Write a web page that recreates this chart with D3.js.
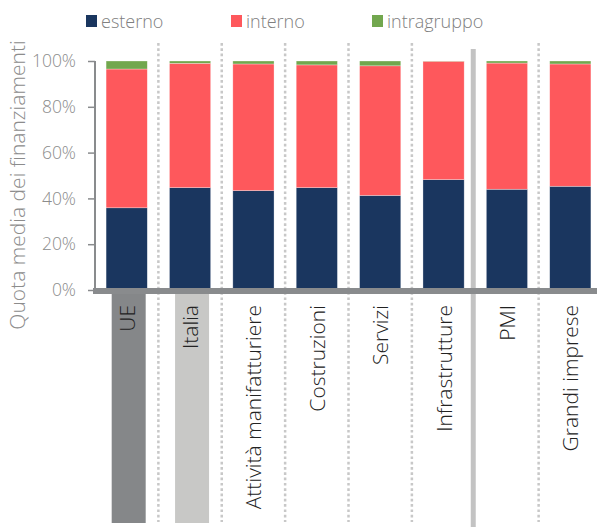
<!DOCTYPE html>
<html>
<head>
<meta charset="utf-8">
<script src="https://cdn.jsdelivr.net/npm/d3@7"></script>
<style>
  body { margin: 0; background: #fff; }
  text { font-family: "Open Sans", "Segoe UI", sans-serif; font-weight: 300; }
</style>
</head>
<body>
<div id="chart"></div>
<script>
// data
var categories = ["UE", "Italia", "Attività manifatturiere", "Costruzioni", "Servizi",
                  "Infrastrutture", "PMI", "Grandi imprese"];
var esterno     = [35.9, 44.7, 43.4, 44.7, 41.3, 48.2, 44.0, 45.3];
var interno     = [60.6, 54.3, 55.3, 53.6, 56.6, 51.7, 55.1, 53.4];
var intragruppo = [3.5, 1.0, 1.3, 1.7, 2.1, 0.1, 0.9, 1.3];
var seriesNames = ["esterno", "interno", "intragruppo"];
var yTicks = [0, 20, 40, 60, 80, 100];

var colors = { esterno: "#1a365f", interno: "#fe585c", intragruppo: "#72a74e" };

const width = 597, height = 527;

var svg = d3.select("#chart")
    .append("svg")
        .attr("width", width)
        .attr("height", height);

var rows = categories.map(function(c, i) {
    return {cat: c, esterno: esterno[i], interno: interno[i], intragruppo: intragruppo[i]};
});
var stacked = d3.stack().keys(seriesNames)(rows);

var xScale = d3.scaleBand()
    .domain(categories)
    .range([95, 602])
    .paddingInner(0.35)
    .paddingOuter(0.175);

var yScale = d3.scaleLinear()
    .domain([0, 100])
    .range([290, 61]);

var step = xScale.step();

// highlight boxes under UE and Italia
var boxFill = {"UE": "#858789", "Italia": "#c8c8c6"};
svg.selectAll(".hl")
    .data(["UE", "Italia"])
    .enter().append("rect")
    .attr("x", d => xScale(d) + xScale.bandwidth() / 2 - 15)
    .attr("y", 293)
    .attr("width", 34)
    .attr("height", 230)
    .style("fill", d => boxFill[d]);

// separators
categories.slice(1).forEach(function(c, i) {
    var sx = xScale(c) - (step - xScale.bandwidth()) / 2;
    if (c == "PMI") {
        svg.append("line")
            .attr("x1", sx - 2).attr("x2", sx - 2)
            .attr("y1", 49).attr("y2", 527)
            .style("stroke", "#c3c3c3")
            .style("stroke-width", 5);
    } else {
        svg.append("line")
            .attr("x1", sx).attr("x2", sx)
            .attr("y1", 43).attr("y2", 522)
            .style("stroke", "#c8c8c8")
            .style("stroke-width", 2.5)
            .style("stroke-dasharray", "2.7,2.6");
    }
});

// bars
svg.append("g").selectAll("g")
    .data(stacked)
    .enter().append("g")
    .style("fill", d => colors[d.key])
    .selectAll("rect")
    .data(d => d)
    .enter().append("rect")
    .attr("x", d => xScale(d.data.cat))
    .attr("y", d => yScale(d[1]))
    .attr("width", xScale.bandwidth())
    .attr("height", d => yScale(d[0]) - yScale(d[1]))
    .style("stroke", "#ffffff")
    .style("stroke-opacity", 0.5)
    .style("stroke-width", 0.6);

// x axis band
svg.append("rect")
    .attr("x", 93)
    .attr("y", 288)
    .attr("width", width - 93)
    .attr("height", 6)
    .style("fill", "#898b8d");

// Y Axis
const yAxis = d3.axisLeft(yScale)
    .tickValues(yTicks)
    .tickSize(7)
    .tickPadding(12)
    .tickFormat(d => d + "%");
var ya = svg.append("g")
    .attr("transform", "translate(95,0)")
    .call(yAxis);
ya.select(".domain")
    .attr("d", "M0,61V294")
    .style("stroke", "#898b8d")
    .style("stroke-width", 2);
ya.selectAll(".tick line")
    .style("stroke", "#898b8d")
    .style("stroke-width", 1.5);
ya.selectAll(".tick text")
    .style("font-size", "17.5px")
    .style("fill", "#8c8c8c")
    .style("font-family", "'Open Sans', sans-serif")
    .style("font-weight", 300);

// category labels
svg.selectAll(".cat")
    .data(categories)
    .enter().append("text")
    .attr("transform", d => "translate(" + (xScale(d) + xScale.bandwidth() / 2 + 8) + ",305) rotate(-90)")
    .style("text-anchor", "end")
    .style("font-size", "21px")
    .style("fill", "#222")
    .text(d => d);

// Y Axis label
svg.append("text")
    .attr("transform", "translate(25,185) rotate(-90)")
    .style("text-anchor", "middle")
    .style("font-size", "21px")
    .style("fill", "#8c8c8c")
    .text("Quota media dei finanziamenti");

// legend
var legendX = [86, 231, 372];
var lg = svg.selectAll(".legend")
    .data(seriesNames)
    .enter().append("g")
    .attr("transform", (d, i) => "translate(" + legendX[i] + ",15)");
lg.append("rect")
    .attr("width", 11)
    .attr("height", 12)
    .style("fill", d => colors[d]);
lg.append("text")
    .attr("x", 15)
    .attr("y", 13)
    .style("font-size", "18px")
    .style("fill", "#808080")
    .text(d => d);
</script>
</body>
</html>
